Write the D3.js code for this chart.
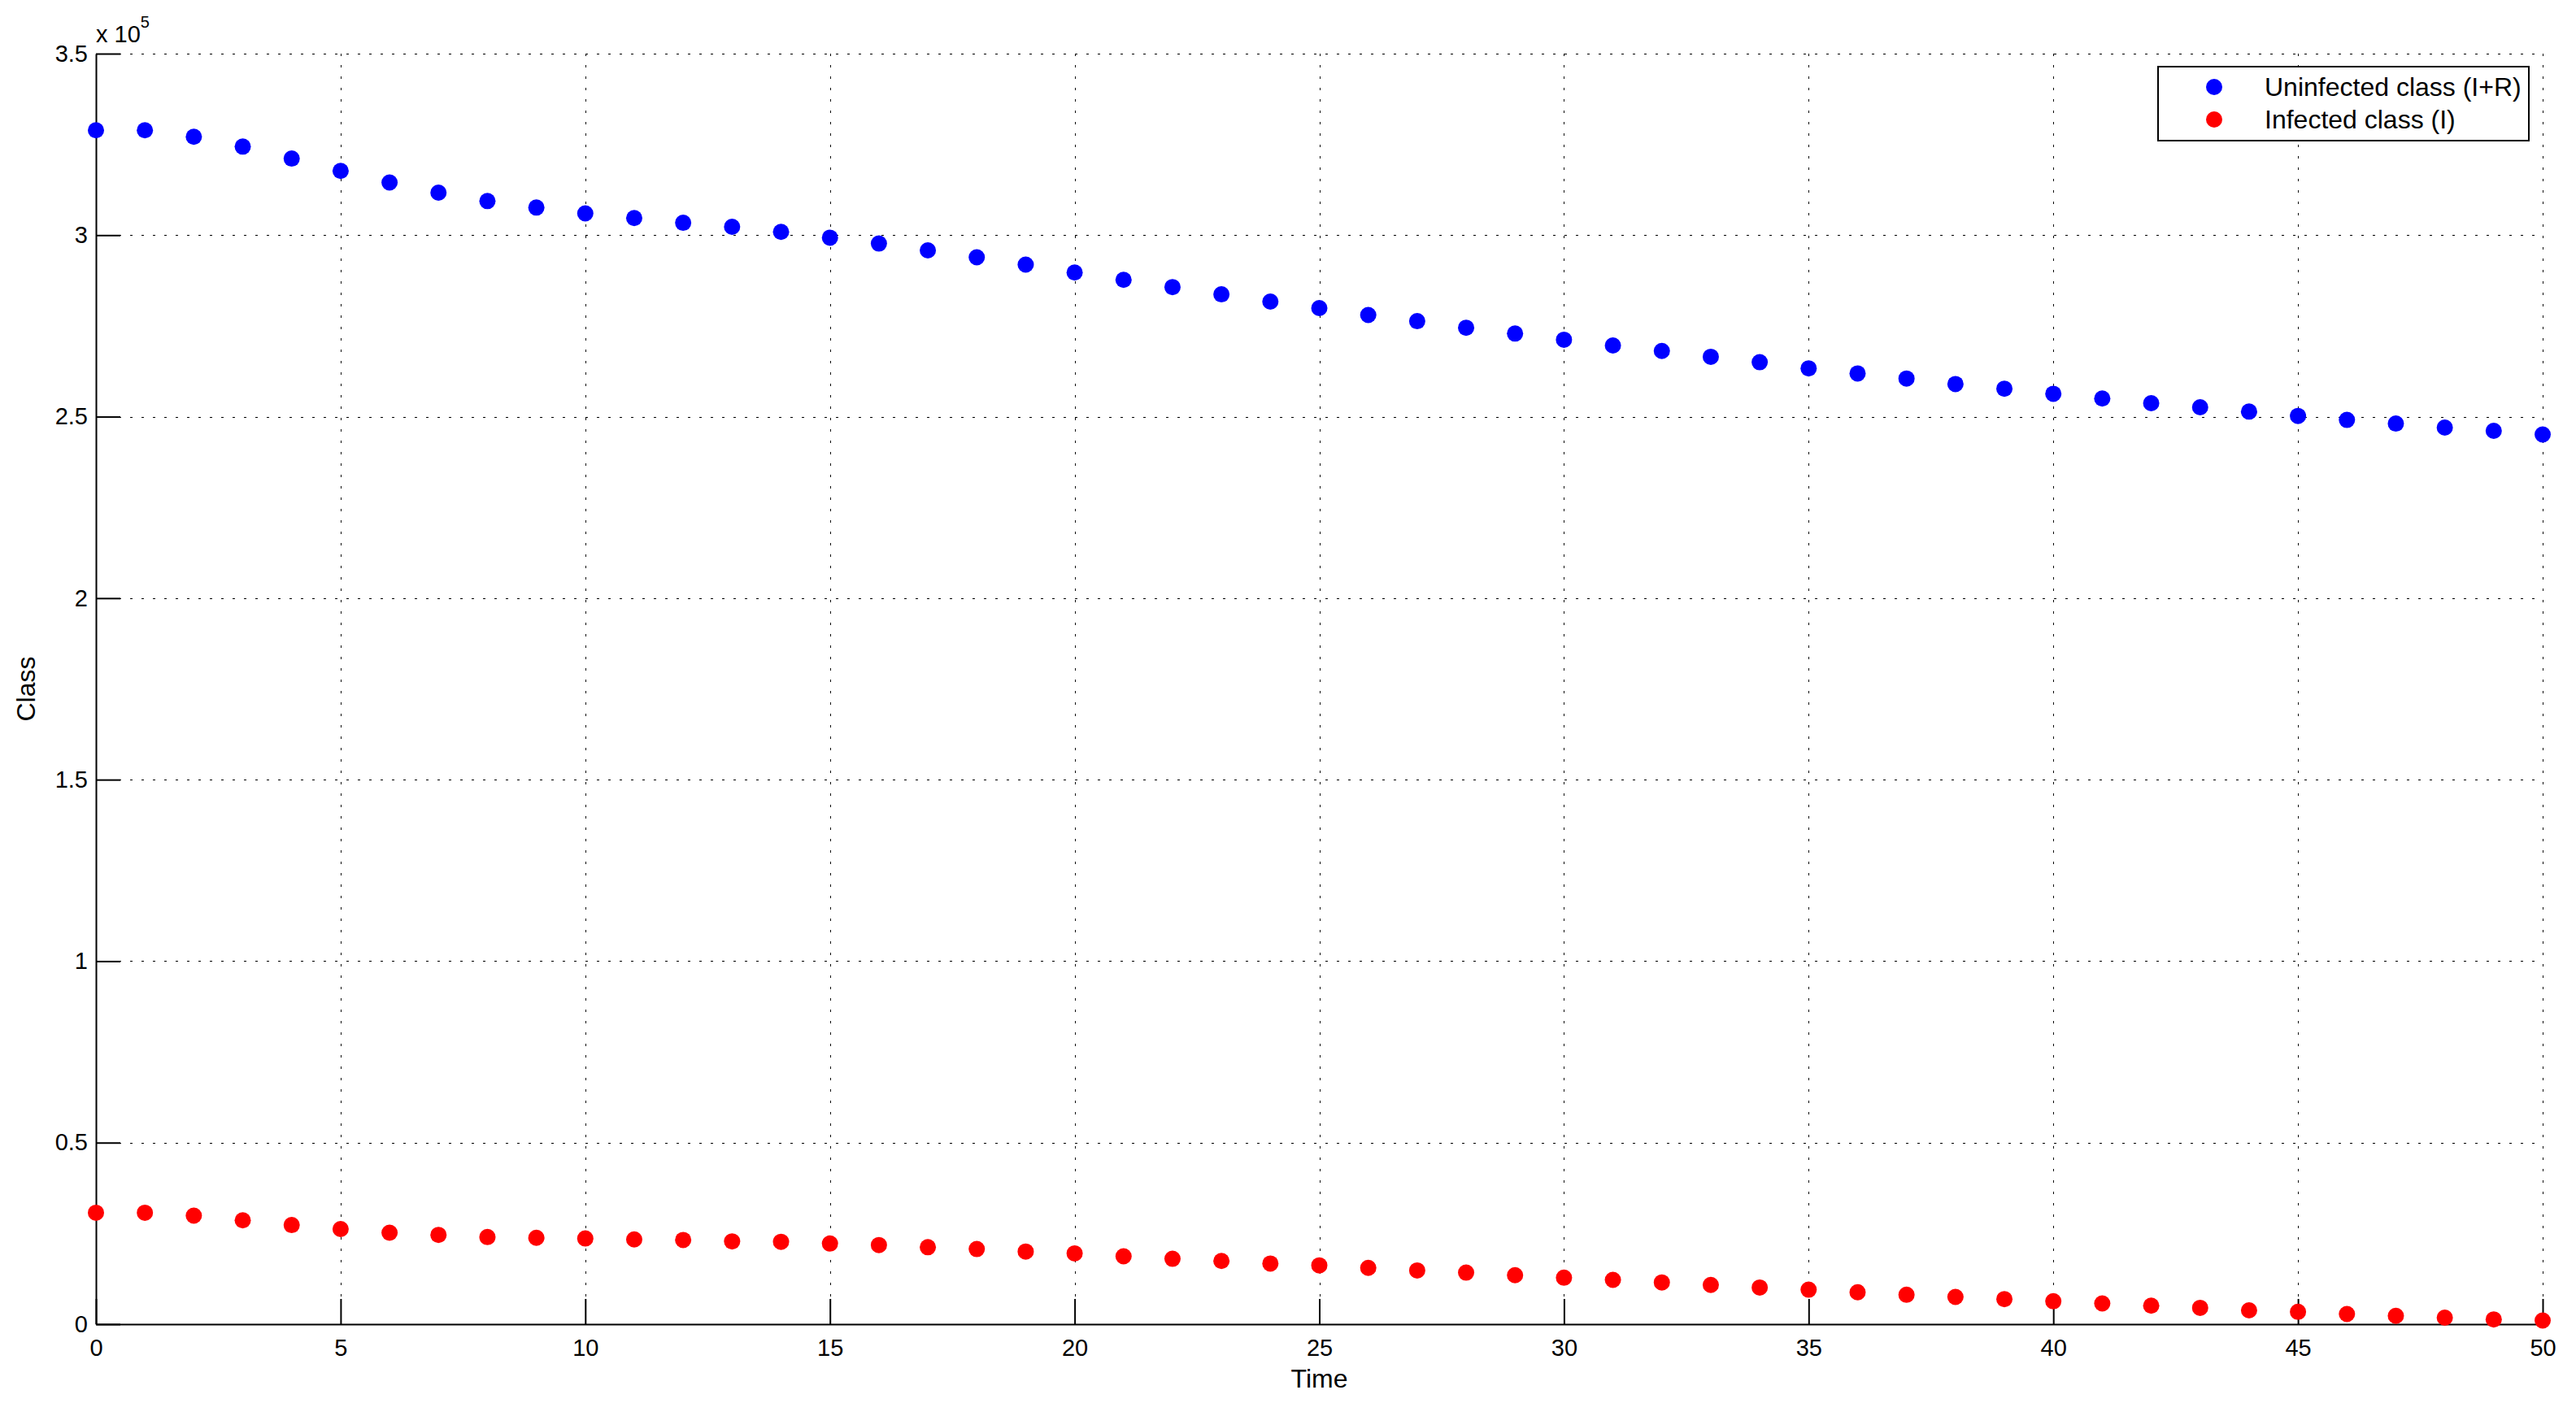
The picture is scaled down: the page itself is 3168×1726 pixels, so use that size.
<!DOCTYPE html>
<html>
<head>
<meta charset="utf-8">
<script src="https://d3js.org/d3.v7.min.js"></script>
<style>
  body { margin: 0; background: #fff; }
  text { font-family: "Liberation Sans", Arial, Helvetica, sans-serif; fill: #000; }
</style>
</head>
<body>
<div id="chart"></div>
<script>
// data
let time = [0, 1, 2, 3, 4, 5, 6, 7, 8, 9, 10, 11, 12, 13, 14, 15, 16, 17, 18, 19, 20,
  21, 22, 23, 24, 25, 26, 27, 28, 29, 30, 31, 32, 33, 34, 35, 36, 37, 38, 39, 40,
  41, 42, 43, 44, 45, 46, 47, 48, 49, 50];

let uninfected = [328900, 328900, 327100, 324400, 321100, 317700, 314500, 311700, 309400, 307600,
  306000, 304700, 303400, 302300, 300900, 299300, 297700, 295800, 293900, 291900,
  289700, 287700, 285700, 283700, 281700, 279900, 278000, 276300, 274500, 272900,
  271200, 269600, 268100, 266500, 265000, 263300, 261900, 260500, 259000, 257700,
  256300, 255000, 253700, 252600, 251400, 250200, 249100, 248100, 247000, 246100, 245100];

let infected = [30700, 30700, 29900, 28600, 27300, 26200, 25200, 24600, 24000, 23800,
  23600, 23350, 23200, 22800, 22700, 22200, 21800, 21200, 20700, 20000,
  19500, 18700, 18000, 17400, 16700, 16200, 15500, 14800, 14200, 13500,
  12800, 12200, 11500, 10800, 10100, 9500, 8800, 8100, 7500, 6900,
  6300, 5700, 5100, 4500, 3800, 3400, 2800, 2300, 1800, 1300, 1000];

let xTicks = [0, 5, 10, 15, 20, 25, 30, 35, 40, 45, 50];
let yTicks = [0, 50000, 100000, 150000, 200000, 250000, 300000, 350000];
let seriesNames = ["Uninfected class (I+R)", "Infected class (I)"];
let seriesColors = ["#0000ff", "#ff0000"];

// size and margins
let svgWidth = 3168;
let svgHeight = 1726;
let margin = {top: 66, right: 41, bottom: 97, left: 118};
let width = svgWidth - margin.left - margin.right;
let height = svgHeight - margin.top - margin.bottom;

let svg = d3.select("#chart")
  .append("svg")
  .attr("width", svgWidth)
  .attr("height", svgHeight);

let chartGroup = svg.append("g")
  .attr("transform", `translate(${margin.left}, ${margin.top})`);

let xScale = d3.scaleLinear().domain([0, 50]).range([0, width]);
let yScale = d3.scaleLinear().domain([0, 350000]).range([height, 0]);

// dotted grid
chartGroup.append("g")
  .selectAll("line")
  .data(xTicks.filter(d => d != 0))
  .enter()
  .append("line")
  .attr("x1", d => Math.round(xScale(d)) + 0.5)
  .attr("x2", d => Math.round(xScale(d)) + 0.5)
  .attr("y1", 0)
  .attr("y2", height)
  .attr("stroke", "#000")
  .attr("stroke-width", 1)
  .attr("stroke-dasharray", "3,11");

chartGroup.append("g")
  .selectAll("line")
  .data(yTicks.filter(d => d != 0))
  .enter()
  .append("line")
  .attr("x1", 0)
  .attr("x2", width)
  .attr("y1", d => Math.round(yScale(d)) + 0.5)
  .attr("y2", d => Math.round(yScale(d)) + 0.5)
  .attr("stroke", "#000")
  .attr("stroke-width", 1)
  .attr("stroke-dasharray", "3,11");

// axes with inward ticks
let bottomAxis = d3.axisBottom(xScale)
  .tickValues(xTicks)
  .tickSizeInner(-31)
  .tickSizeOuter(0)
  .tickPadding(18);

let leftAxis = d3.axisLeft(yScale)
  .tickValues(yTicks)
  .tickFormat(d => d / 100000)
  .tickSizeInner(-30)
  .tickSizeOuter(0)
  .tickPadding(10);

let xAxisG = chartGroup.append("g")
  .attr("transform", `translate(0, ${height})`)
  .call(bottomAxis);

let yAxisG = chartGroup.append("g")
  .call(leftAxis);

[xAxisG, yAxisG].forEach(g => {
  g.selectAll("path").attr("stroke", "#000").attr("stroke-width", 2);
  g.selectAll("line").attr("stroke", "#000").attr("stroke-width", 2);
  g.selectAll("text")
    .attr("fill", "#000")
    .style("font-family", "'Liberation Sans', Arial, sans-serif")
    .style("font-size", "29px");
});

// exponent label
let expo = chartGroup.append("text")
  .attr("x", 0)
  .attr("y", -14)
  .style("font-size", "29px");
expo.append("tspan").text("x 10");
expo.append("tspan")
  .attr("dy", -18)
  .style("font-size", "20px")
  .text("5");

// axis titles
chartGroup.append("text")
  .attr("x", width / 2)
  .attr("y", height + 78)
  .attr("text-anchor", "middle")
  .style("font-size", "32px")
  .text("Time");

chartGroup.append("text")
  .attr("transform", "rotate(-90)")
  .attr("x", -height / 2)
  .attr("y", -75)
  .attr("text-anchor", "middle")
  .style("font-size", "32px")
  .text("Class");

// points
let allSeries = [uninfected, infected];
allSeries.forEach((vals, i) => {
  chartGroup.append("g")
    .selectAll("circle")
    .data(vals)
    .enter()
    .append("circle")
    .attr("cx", (d, j) => xScale(time[j]))
    .attr("cy", d => yScale(d))
    .attr("r", 10)
    .attr("fill", seriesColors[i]);
});

// legend
let legend = svg.append("g")
  .attr("transform", "translate(2654, 82)");

legend.append("rect")
  .attr("width", 456)
  .attr("height", 91)
  .attr("fill", "#fff")
  .attr("stroke", "#000")
  .attr("stroke-width", 2);

seriesNames.forEach((name, i) => {
  legend.append("circle")
    .attr("cx", 69)
    .attr("cy", 25 + i * 40)
    .attr("r", 10)
    .attr("fill", seriesColors[i]);
  legend.append("text")
    .attr("x", 131)
    .attr("y", 36 + i * 40)
    .style("font-size", "32px")
    .text(name);
});
</script>
</body>
</html>
